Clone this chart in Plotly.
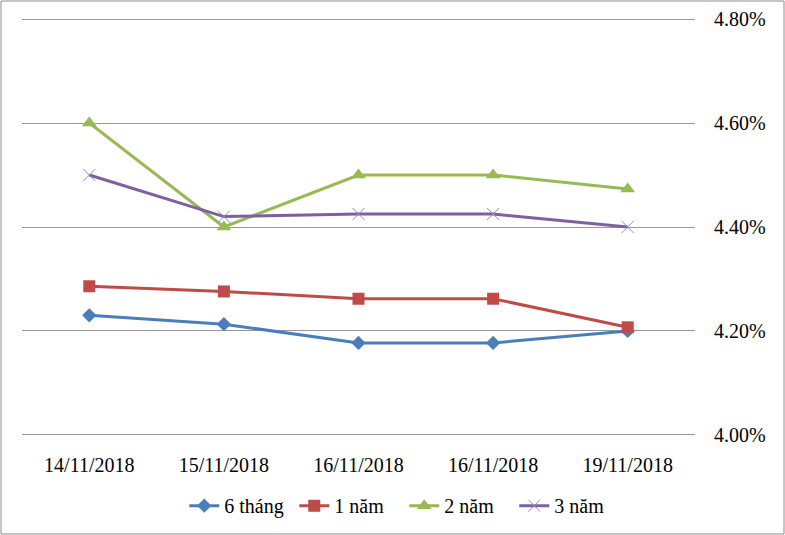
import plotly.graph_objects as go

dates = ["14/11/2018", "15/11/2018", "16/11/2018", "16/11/2018", "19/11/2018"]
s6thang = [4.23, 4.213, 4.177, 4.177, 4.20]
s1nam = [4.286, 4.276, 4.262, 4.262, 4.207]
s2nam = [4.60, 4.40, 4.50, 4.50, 4.473]
s3nam = [4.50, 4.42, 4.425, 4.425, 4.40]
y_ticks = [4.00, 4.20, 4.40, 4.60, 4.80]

xpos = list(range(len(dates)))
font = "Liberation Serif, serif"

series = [
    ("6 tháng", s6thang, "#4A7EBB", dict(symbol="diamond", size=11)),
    ("1 năm", s1nam, "#BE4B48", dict(symbol="square", size=12)),
    ("2 năm", s2nam, "#98B954", dict(symbol="triangle-up", size=13)),
    ("3 năm", s3nam, "#7D60A0", dict(symbol="x-thin", size=12, line=dict(width=1, color="#9B87BE"))),
]

fig = go.Figure()
for name, vals, color, marker in series:
    marker = dict(marker)
    marker["color"] = color
    fig.add_trace(go.Scatter(
        x=xpos, y=vals, name=name, mode="lines+markers",
        line=dict(color=color, width=3),
        marker=marker,
    ))

W, H = 785, 535
ml, mr, mt, mb = 22, 90, 17, 98
pw, ph = W - ml - mr, H - mt - mb

fig.update_layout(
    width=W, height=H,
    margin=dict(l=ml, r=mr, t=mt, b=mb, autoexpand=False),
    paper_bgcolor="white", plot_bgcolor="white",
    font=dict(family=font, size=20, color="black"),
    showlegend=True,
    legend=dict(orientation="h", x=0.568, xanchor="center", y=-0.117, yanchor="top",
                font=dict(family=font, size=20, color="black"),
                entrywidth=65, traceorder="normal"),
    xaxis=dict(
        tickvals=xpos, ticktext=dates, range=[-0.5, len(dates) - 0.5],
        showgrid=False, zeroline=False, showline=False,
        ticks="outside", ticklen=10, tickcolor="rgba(0,0,0,0)", automargin=False,
        tickfont=dict(family=font, size=20, color="black"),
    ),
    yaxis=dict(
        side="right", range=[3.996, 4.804], tickvals=y_ticks,
        ticktext=[f"{v:.2f}%" for v in y_ticks],
        showgrid=True, gridcolor="#969696", gridwidth=1,
        zeroline=False, showline=False,
        ticks="outside", ticklen=14, tickcolor="rgba(0,0,0,0)", automargin=False,
        tickfont=dict(family=font, size=20, color="black"),
    ),
    shapes=[dict(
        type="rect", xref="paper", yref="paper",
        x0=-(ml - 1) / pw, x1=1 + (mr - 1) / pw,
        y0=-(mb - 1) / ph, y1=1 + (mt - 1) / ph,
        line=dict(color="#8C8C8C", width=1),
    )],
)

fig.write_html("out.html", config={"displayModeBar": False},
               post_script="document.body.style.margin='0';document.body.style.overflow='hidden';")
